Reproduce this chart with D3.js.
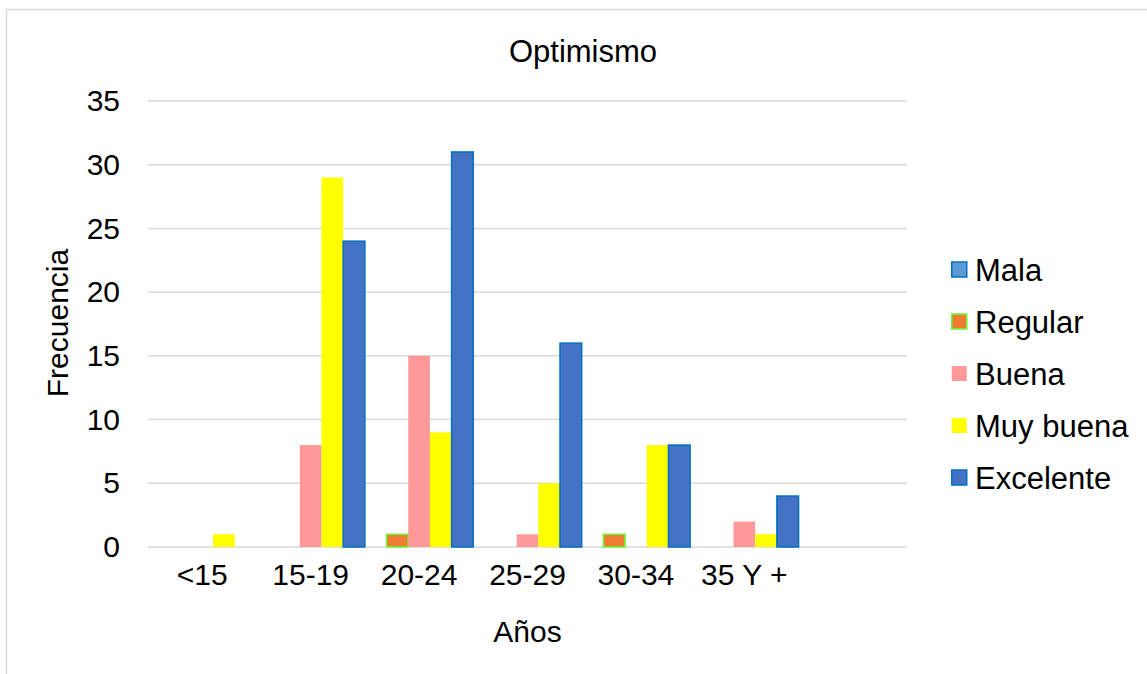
<!DOCTYPE html>
<html>
<head>
<meta charset="utf-8">
<script src="https://cdn.jsdelivr.net/npm/d3@7"></script>
<style>
  body { margin: 0; background: #fff; }
  text { font-family: "Liberation Sans", Arial, sans-serif; fill: #000; }
</style>
</head>
<body>
<div class="container"></div>
<script>
const categories = ['<15', '15-19', '20-24', '25-29', '30-34', '35 Y +'];
const series = ['Mala', 'Regular', 'Buena', 'Muy buena', 'Excelente'];
const mala = [0, 0, 0, 0, 0, 0];
const regular = [0, 0, 1, 0, 1, 0];
const buena = [0, 8, 15, 1, 0, 2];
const muyBuena = [1, 29, 9, 5, 8, 1];
const excelente = [0, 24, 31, 16, 8, 4];
const yTicks = [0, 5, 10, 15, 20, 25, 30, 35];

const values = [mala, regular, buena, muyBuena, excelente];
const fills = ['#5B9BD5', '#ED7D31', '#FF9999', '#FFFF00', '#4472C4'];
const strokes = ['#0070C0', '#66FF33', 'none', 'none', '#0070C0'];

const width = 1147;
const height = 674;
const plot = { left: 148, right: 907, top: 101, bottom: 547 };

// the chart keeps one empty slot after the last group
const xScale = d3.scaleBand()
  .domain([...categories, ''])
  .range([plot.left, plot.right])
  .padding(0);

const xInner = d3.scaleBand()
  .domain(series)
  .range([0, xScale.bandwidth()])
  .padding(0);

const yScale = d3.scaleLinear()
  .domain([0, 35])
  .range([plot.bottom, plot.top]);

const svg = d3.select('.container')
  .append('svg')
  .attr('width', width)
  .attr('height', height);

svg.append('rect')
  .attr('x', 6.5)
  .attr('y', 9.5)
  .attr('width', width)
  .attr('height', height)
  .attr('fill', 'none')
  .attr('stroke', '#d9d9d9')
  .attr('stroke-width', 1.5);

svg.append('text')
  .attr('x', 583)
  .attr('y', 62)
  .attr('text-anchor', 'middle')
  .attr('font-size', 31)
  .text('Optimismo');

// grid
svg.append('g')
  .selectAll('line')
  .data(yTicks)
  .enter()
  .append('line')
  .attr('x1', plot.left)
  .attr('x2', plot.right)
  .attr('y1', d => yScale(d))
  .attr('y2', d => yScale(d))
  .attr('stroke', '#d9d9d9')
  .attr('stroke-width', 1.5);

const yAxis = d3.axisLeft(yScale).tickValues(yTicks).tickSize(0).tickPadding(28);
svg.append('g')
  .attr('transform', `translate(${plot.left}, 0)`)
  .call(yAxis)
  .call(g => g.select('.domain').remove())
  .selectAll('text')
  .attr('font-size', 30)
  .attr('font-family', '"Liberation Sans", Arial, sans-serif');

const xAxis = d3.axisBottom(xScale).tickValues(categories).tickSize(0).tickPadding(17);
svg.append('g')
  .attr('transform', `translate(0, ${plot.bottom})`)
  .call(xAxis)
  .call(g => g.select('.domain').remove())
  .selectAll('text')
  .attr('font-size', 30)
  .attr('font-family', '"Liberation Sans", Arial, sans-serif');

// bars
const rows = [];
categories.forEach((c, i) => {
  series.forEach((s, j) => {
    if (values[j][i] > 0) rows.push({ c, s, j, v: values[j][i] });
  });
});

svg.append('g')
  .selectAll('rect')
  .data(rows)
  .enter()
  .append('rect')
  .attr('x', d => xScale(d.c) + xInner(d.s))
  .attr('y', d => yScale(d.v))
  .attr('width', xInner.bandwidth())
  .attr('height', d => yScale(0) - yScale(d.v))
  .attr('fill', d => fills[d.j])
  .attr('stroke', d => strokes[d.j])
  .attr('stroke-width', 1.5);

svg.append('text')
  .attr('transform', `translate(${(plot.left + plot.right) / 2}, 642)`)
  .attr('text-anchor', 'middle')
  .attr('font-size', 30)
  .text('Años');

svg.append('text')
  .attr('transform', 'translate(68, 323) rotate(-90)')
  .attr('text-anchor', 'middle')
  .attr('font-size', 30)
  .text('Frecuencia');

// legend
const legend = svg.append('g')
  .selectAll('g')
  .data(series)
  .enter()
  .append('g')
  .attr('transform', (d, i) => `translate(951, ${270 + i * 52})`);

legend.append('rect')
  .attr('x', 0.75)
  .attr('y', -8)
  .attr('width', 15)
  .attr('height', 15)
  .attr('fill', (d, i) => fills[i])
  .attr('stroke', (d, i) => strokes[i])
  .attr('stroke-width', 1.5);

legend.append('text')
  .attr('x', 24)
  .attr('dy', '0.35em')
  .attr('font-size', 31)
  .text(d => d);
</script>
</body>
</html>
